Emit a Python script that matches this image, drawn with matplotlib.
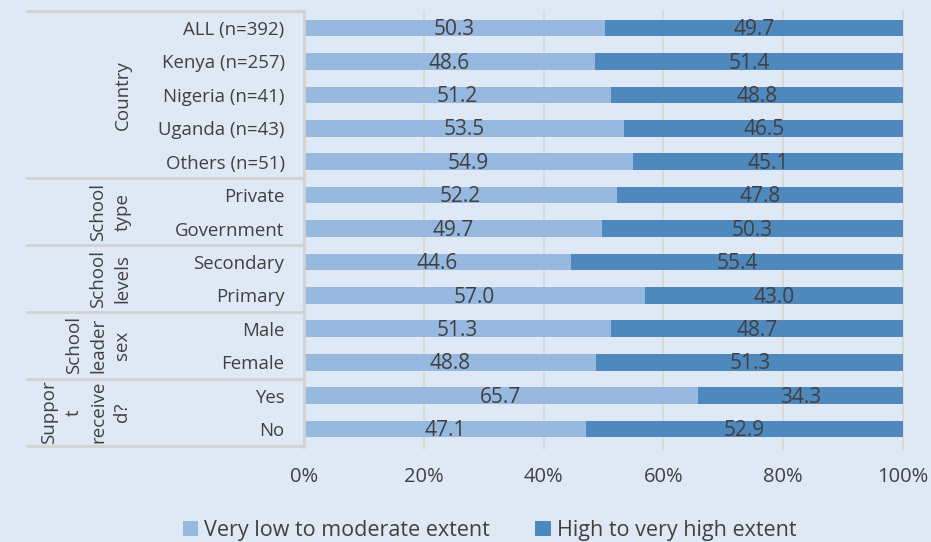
import matplotlib.pyplot as plt
import numpy as np

categories = ["ALL (n=392)", "Kenya (n=257)", "Nigeria (n=41)", "Uganda (n=43)",
              "Others (n=51)", "Private", "Government", "Secondary", "Primary",
              "Male", "Female", "Yes", "No"]
low_moderate = [50.3, 48.6, 51.2, 53.5, 54.9, 52.2, 49.7, 44.6, 57.0, 51.3, 48.8, 65.7, 47.1]
high_very_high = [49.7, 51.4, 48.8, 46.5, 45.1, 47.8, 50.3, 55.4, 43.0, 48.7, 51.3, 34.3, 52.9]

groups = ["Country", "School\ntype", "School\nlevels", "School\nleader\nsex", "Suppor\nt\nreceive\nd?"]
group_sizes = [5, 2, 2, 2, 2]

series_names = ["Very low to moderate extent", "High to very high extent"]

bg = "#dee9f5"
c_light = "#97b9e0"
c_dark = "#4e88bc"
txt = "#404040"
line_c = "#d2d2d2"

plt.rcParams['font.family'] = ['Open Sans', 'DejaVu Sans']

fig = plt.figure(figsize=(9.31, 5.42), dpi=100, facecolor=bg)
ax = fig.add_axes([0.3265, 0.1777, 0.6434, 0.8013])
ax.set_facecolor(bg)

y = np.arange(len(categories))
ax.barh(y, low_moderate, height=0.5, color=c_light, label=series_names[0], zorder=2)
ax.barh(y, high_very_high, left=low_moderate, height=0.5, color=c_dark,
        label=series_names[1], zorder=2)

# value labels in the middle of each segment
for i, (a, b) in enumerate(zip(low_moderate, high_very_high)):
    ax.text(a / 2, i + 0.05, f"{a:.1f}", ha="center", va="center", fontsize=15, color=txt, zorder=3)
    ax.text(a + b / 2, i + 0.05, f"{b:.1f}", ha="center", va="center", fontsize=15, color=txt, zorder=3)

ax.set_xlim(0, 100)
ax.set_ylim(len(categories) - 0.5, -0.5)
ax.set_xticks(np.arange(0, 101, 20))
ax.set_xticklabels([f"{v}%" for v in range(0, 101, 20)], fontsize=14.5, color=txt)
ax.set_yticks(y)
ax.set_yticklabels(categories, fontsize=13.4, color=txt)
ax.tick_params(axis="y", length=0, pad=14)
ax.tick_params(axis="x", length=0, pad=15)
for v in range(0, 101, 20):
    ax.plot([v, v], [len(categories) - 0.5 + 0.1, -0.5], color="#dbd6d2", lw=1.2,
            zorder=1, clip_on=False)

for s in ax.spines.values():
    s.set_visible(False)
ax.plot([0, 0], [len(categories) - 0.5, -0.5], transform=ax.get_yaxis_transform(),
        color=line_c, lw=2, clip_on=False, zorder=4)

# group separators and group labels on the category axis
tr = ax.get_yaxis_transform()
start = -0.5
ax.plot([-0.462, 0], [start, start], transform=tr, color=line_c, lw=2, clip_on=False)
for name, n in zip(groups, group_sizes):
    end = start + n
    ax.plot([-0.462, 0], [end, end], transform=tr, color=line_c, lw=2, clip_on=False)
    ax.text(-0.288, (start + end) / 2, name, transform=tr, rotation=90, ha="right",
            va="center", multialignment="center", fontsize=13.5, color=txt,
            linespacing=1.45)
    start = end

leg = fig.legend(loc="center", bbox_to_anchor=(0.526, 0.021), ncol=2, frameon=False,
                 fontsize=15.5, handlelength=0.7, handleheight=0.7, handletextpad=0.28,
                 columnspacing=2.1, borderpad=0)
for t in leg.get_texts():
    t.set_color(txt)

fig.savefig("out.png", dpi=100, facecolor=bg)
